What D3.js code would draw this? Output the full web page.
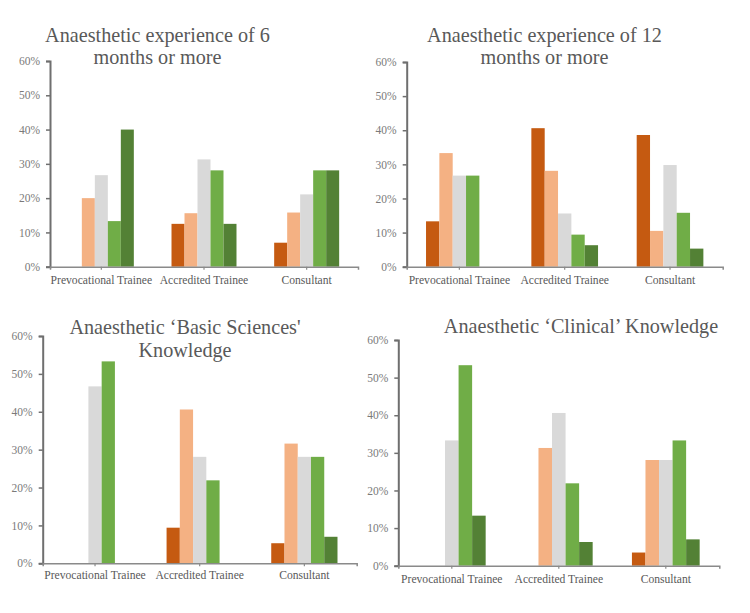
<!DOCTYPE html>
<html>
<head>
<meta charset="utf-8">
<script src="https://cdn.jsdelivr.net/npm/d3@7"></script>
<style>
  html, body { margin: 0; padding: 0; background: #ffffff; }
  svg { display: block; font-family: "Liberation Serif", "DejaVu Serif", serif; }
</style>
</head>
<body>
<svg id="chart" width="750" height="613"></svg>
<script>
// ---- Data (values in %) ----
const categories = ["Prevocational Trainee", "Accredited Trainee", "Consultant"];
const seriesNames = ["Level 1", "Level 2", "Level 3", "Level 4", "Level 5"];
const seriesColors = ["#C55A11", "#F4B183", "#D9D9D9", "#70AD47", "#538135"];
const yTicks = [0, 10, 20, 30, 40, 50, 60];

// each row = one category, values per series (Level 1..5)
const experience6 = [
  [0, 20.0, 26.7, 13.3, 40.0],
  [12.5, 15.6, 31.3, 28.1, 12.5],
  [7.0, 15.8, 21.1, 28.1, 28.1]
];
const experience12 = [
  [13.3, 33.3, 26.7, 26.7, 0],
  [40.6, 28.1, 15.6, 9.4, 6.3],
  [38.6, 10.5, 29.8, 15.8, 5.3]
];
const basicSciences = [
  [0, 0, 46.7, 53.3, 0],
  [9.4, 40.6, 28.1, 21.9, 0],
  [5.3, 31.6, 28.1, 28.1, 7.0]
];
const clinical = [
  [0, 0, 33.3, 53.3, 13.3],
  [0, 31.3, 40.6, 21.9, 6.3],
  [3.5, 28.1, 28.1, 33.3, 7.0]
];

const titles = [
  ["Anaesthetic experience of 6", "months or more"],
  ["Anaesthetic experience of 12", "months or more"],
  ["Anaesthetic \u2018Basic Sciences'", "Knowledge"],
  ["Anaesthetic \u2018Clinical\u2019 Knowledge"]
];

// ---- Layout ----
const panels = [
  { data: experience6,   title: titles[0], x0: 50,    x1: 358,   yTop: 61,  yBot: 266.7, tx: 157.5, ty: 42,    lh: 21.5, catY: 284 },
  { data: experience12,  title: titles[1], x0: 406.7, x1: 722.7, yTop: 62,  yBot: 266.7, tx: 544.5, ty: 42,    lh: 21.5, catY: 284 },
  { data: basicSciences, title: titles[2], x0: 42.7,  x1: 356.7, yTop: 336, yBot: 563.3, tx: 185,   ty: 334,   lh: 22.5, catY: 579 },
  { data: clinical,      title: titles[3], x0: 398.3, x1: 719.3, yTop: 340, yBot: 565.7, tx: 581,   ty: 333.3, lh: 22,   catY: 583 }
];

const svg = d3.select("#chart");

panels.forEach(p => {
  const g = svg.append("g");
  const x = d3.scaleBand().domain(categories).range([p.x0, p.x1]).paddingInner(0.367).paddingOuter(0.1835);
  const xs = d3.scaleBand().domain(seriesNames).range([0, x.bandwidth()]).padding(0);
  const y = d3.scaleLinear().domain([0, 60]).range([p.yBot, p.yTop]);

  // bars
  categories.forEach((c, ci) => {
    g.selectAll(null)
      .data(p.data[ci].map((v, si) => ({ v, si })))
      .enter().append("rect")
      .attr("x", d => x(c) + xs(seriesNames[d.si]))
      .attr("width", xs.bandwidth())
      .attr("y", d => y(d.v))
      .attr("height", d => y(0) - y(d.v))
      .attr("fill", d => seriesColors[d.si]);
  });

  // y axis
  const yAxis = d3.axisLeft(y).tickValues(yTicks).tickFormat(d => d + "%").tickSizeOuter(0).tickSize(4).tickPadding(6);
  const ya = g.append("g").attr("transform", `translate(${p.x0},0)`).call(yAxis);
  ya.select(".domain").attr("stroke", "#6f6f6f").attr("stroke-width", 2);
  ya.selectAll(".tick line").attr("stroke", "#6f6f6f").attr("stroke-width", 1.5);
  ya.selectAll(".tick text").attr("fill", "#7a7a7a").style("font-size", "11.5px").style("font-family", "Liberation Serif, serif");

  // x axis
  const xAxis = d3.axisBottom(x).tickSizeOuter(0).tickSize(3).tickFormat(() => "");
  const xa = g.append("g").attr("transform", `translate(0,${p.yBot})`).call(xAxis);
  xa.select(".domain").attr("stroke", "#8a8a8a").attr("stroke-width", 1.5);
  xa.selectAll(".tick line").attr("stroke", "#8a8a8a").attr("stroke-width", 1.2);

  // category labels
  g.selectAll(null).data(categories).enter().append("text")
    .attr("x", d => x(d) + x.bandwidth() / 2)
    .attr("y", p.catY)
    .attr("text-anchor", "middle")
    .attr("fill", "#595959")
    .style("font-size", "11.6px")
    .text(d => d);

  // title
  p.title.forEach((line, i) => {
    g.append("text")
      .attr("x", p.tx)
      .attr("y", p.ty + i * p.lh)
      .attr("text-anchor", "middle")
      .attr("fill", "#595959")
      .style("font-size", "20.2px")
      .text(line);
  });
});
</script>
</body>
</html>
